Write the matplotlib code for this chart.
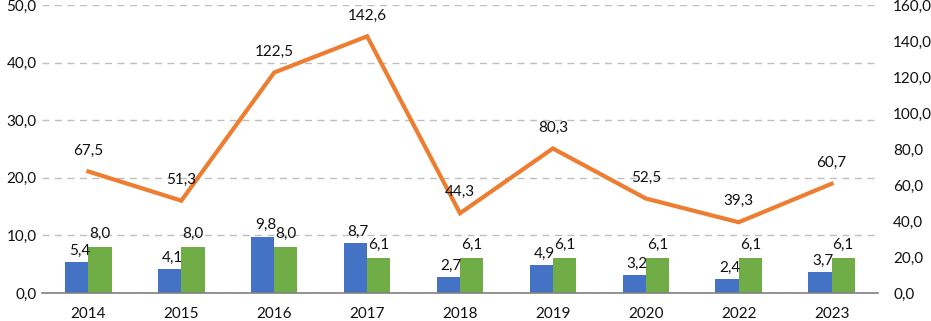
import matplotlib
matplotlib.use("Agg")
import matplotlib.pyplot as plt
import numpy as np

years = ["2014", "2015", "2016", "2017", "2018", "2019", "2020", "2022", "2023"]
blue_vals = [5.4, 4.1, 9.8, 8.7, 2.7, 4.9, 3.2, 2.4, 3.7]
green_vals = [8.0, 8.0, 8.0, 6.1, 6.1, 6.1, 6.1, 6.1, 6.1]
line_vals = [67.5, 51.3, 122.5, 142.6, 44.3, 80.3, 52.5, 39.3, 60.7]

def fmt(v):
    return f"{v:.1f}".replace(".", ",")

plt.rcParams['font.family'] = ['Lato', 'DejaVu Sans']
fig = plt.figure(figsize=(9.31, 3.21), dpi=100)
ax = fig.add_axes([42/931, 28/321, (878-42)/931, (293-5)/321])
ax2 = ax.twinx()

x = np.arange(len(years))
w = 0.25
fs = 11
ax.bar(x - w/2, blue_vals, w, color="#4472C4", zorder=2)
ax.bar(x + w/2, green_vals, w, color="#70AD47", zorder=2)
for xi, v in zip(x, blue_vals):
    ax.annotate(fmt(v), (xi - w/2, v), xytext=(2, 3), textcoords="offset points",
                ha="center", va="bottom", fontsize=fs, color="#111111")
for xi, v in zip(x, green_vals):
    ax.annotate(fmt(v), (xi + w/2, v), xytext=(0, 4), textcoords="offset points",
                ha="center", va="bottom", fontsize=fs, color="#111111")

ax2.plot(x, line_vals, color="#ED7D31", lw=3, zorder=3, solid_joinstyle="miter")
for xi, v in zip(x, line_vals):
    ax2.annotate(fmt(v), (xi, v), xytext=(0, 10), textcoords="offset points",
                 ha="center", va="bottom", fontsize=fs, color="#111111")

ax.set_xlim(-0.5, len(years) - 0.5)
ax.set_ylim(0, 50)
ax2.set_ylim(0, 160)
ax.set_yticks(np.arange(0, 51, 10))
ax2.set_yticks(np.arange(0, 161, 20))
ax.set_yticklabels([fmt(v) for v in np.arange(0, 51, 10)])
ax2.set_yticklabels([fmt(v) for v in np.arange(0, 161, 20)])
ax.set_xticks(x)
ax.set_xticklabels(years)

ax.yaxis.grid(True, linestyle=(0, (5, 4)), color="#BFBFBF", lw=1, zorder=0)
ax.set_axisbelow(True)
for a in (ax, ax2):
    for s in ["top", "right", "left", "bottom"]:
        a.spines[s].set_visible(False)
    a.tick_params(length=0, labelsize=fs, colors="#111111")
ax.spines["bottom"].set_visible(True)
ax.spines["bottom"].set_color("#808080")
ax.spines["bottom"].set_linewidth(1.2)
ax.tick_params(axis="x", pad=10)
ax.tick_params(axis="y", pad=4)
ax2.tick_params(axis="y", pad=11)

fig.savefig("out.png", dpi=100)
